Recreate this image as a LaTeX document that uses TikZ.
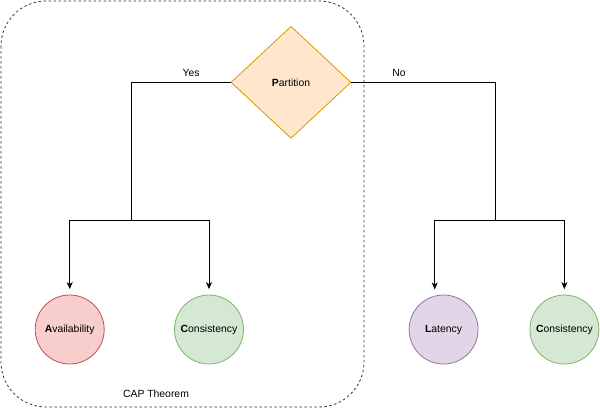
\documentclass[tikz,border=0pt]{standalone}
\usepackage{fontspec}
\setmainfont{Liberation Sans}
\usetikzlibrary{shapes.geometric,arrows.meta}
\definecolor{redfill}{HTML}{F8CECC}\definecolor{redline}{HTML}{B85450}
\definecolor{greenfill}{HTML}{D5E8D4}\definecolor{greenline}{HTML}{82B366}
\definecolor{purplefill}{HTML}{E1D5E7}\definecolor{purpleline}{HTML}{9673A6}
\definecolor{orangefill}{HTML}{FFE6CC}\definecolor{orangeline}{HTML}{D79B00}
\tikzset{
  every node/.style={font=\fontsize{10.4}{12}\selectfont},
  circ/.style={circle, minimum size=69pt, inner sep=0pt, line width=0.8pt},
  conn/.style={line width=0.9pt, black},
  arr/.style={conn, -{Stealth[length=7pt,width=6pt,inset=2pt]}},
  lbl/.style={inner sep=0pt},
}
\begin{document}
\begin{tikzpicture}[x=1pt,y=-1pt]
\useasboundingbox (0,0) rectangle (600,408);
\draw[black!80, line width=0.8pt, dash pattern=on 2.5pt off 2.5pt, rounded corners=45pt] (1,1) rectangle (364,407);
\node[lbl] (cap) at (156,394) {CAP Theorem};
\node[diamond, draw=orangeline, fill=orangefill, line width=0.8pt, minimum width=120pt, minimum height=112pt, inner sep=0pt, aspect=1.07] (part) at (291,82.3) {\textbf{P}artition};
\node[circ, draw=redline, fill=redfill] (av) at (69.7,329.5) {\textbf{A}vailability};
\node[circ, draw=greenline, fill=greenfill] (c1) at (209,329.5) {\textbf{C}onsistency};
\node[circ, draw=purpleline, fill=purplefill] (lat) at (443.6,329.5) {\textbf{L}atency};
\node[circ, draw=greenline, fill=greenfill] (c2) at (564.4,329.5) {\textbf{C}onsistency};
\node[lbl] (yes) at (191,73) {Yes};
\node[lbl] (no) at (399,73) {No};
\coordinate (yj) at (131,220);
\coordinate (nj) at (495.6,220.5);
\coordinate (lt) at (434.7,289.5);
\draw[conn] (part.west) -| (yj);
\draw[conn] (part.east) -| (nj);
\draw[arr, shorten >=5.5pt] (yj) -| (av.north);
\draw[arr, shorten >=5.5pt] (yj) -| (c1.north);
\draw[arr] (nj) -| (lt);
\draw[arr, shorten >=5.5pt] (nj) -| (c2.north);
\end{tikzpicture}
\end{document}
